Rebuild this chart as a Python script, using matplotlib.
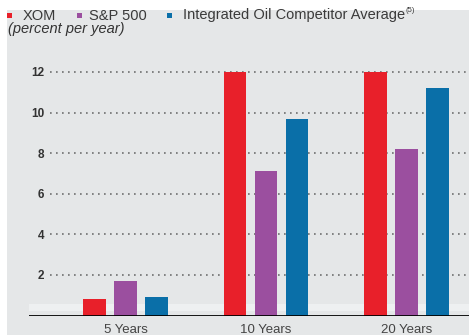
import numpy as np
import matplotlib.pyplot as plt
from matplotlib.patches import Rectangle

plt.rcParams['font.family'] = ['Liberation Sans', 'DejaVu Sans']

periods = ['5 Years', '10 Years', '20 Years']
xom = [0.82, 12.0, 12.0]
sp500 = [1.72, 7.1, 8.2]
oil_avg = [0.93, 9.7, 11.2]
y_ticks = [2, 4, 6, 8, 10, 12]

colors = ['#e8202a', '#9b4f9f', '#0a6fa8']
names = ['XOM', 'S&P 500', 'Integrated Oil Competitor Average']
bg = '#e5e7e8'
W, H = 469, 335

fig = plt.figure(figsize=(4.69, 3.35), dpi=100)
fig.patch.set_facecolor('white')
# grey panel behind everything
fig.patches.append(Rectangle((7 / W, 0), 1, 1 - 10 / H, transform=fig.transFigure,
                             facecolor=bg, edgecolor='none', zorder=-10))

ax = fig.add_axes([29 / W, 1 - 315.6 / H, 440 / W, 255.8 / H])
ax.set_facecolor('none')

x = np.arange(len(periods))
w = 0.16
step = 0.22
for i, vals in enumerate([xom, sp500, oil_avg]):
    ax.bar(x + (i - 1) * step, vals, width=w, color=colors[i], zorder=3)

# dotted grid lines
for t in y_ticks:
    ax.axhline(t, xmin=0.048, xmax=1, color='#6f6f6f', lw=1.2,
               linestyle=(0, (1, 2.6)), zorder=1)
# faint light band just above the baseline
ax.axhspan(0.25, 0.55, color='#eef0f1', lw=0, zorder=0)
ax.axhline(0, color='black', lw=2, zorder=4)

ax.set_xlim(-0.687, 2.445)
ax.set_ylim(0, 12.6)
ax.set_yticks(y_ticks)
ax.set_yticklabels([str(t) for t in y_ticks], fontsize=8.5, fontweight='bold', color='#333333')
ax.tick_params(axis='y', length=0, pad=-10.8)
ax.set_xticks(x)
ax.set_xticklabels(periods, fontsize=9.5, color='#444444')
ax.tick_params(axis='x', length=0, pad=6)
for s in ax.spines.values():
    s.set_visible(False)

# legend row
leg_y = 1 - 15.5 / H
sq_x = [7, 77, 167]
txt_x = [23, 89, 183]
labels = []
for c, n, sx, tx in zip(colors, names, sq_x, txt_x):
    fig.patches.append(Rectangle((sx / W, leg_y - 2.5 / H), 5 / W, 5 / H,
                                 transform=fig.transFigure, facecolor=c, edgecolor='none'))
    labels.append(fig.text(tx / W, leg_y, n, fontsize=10.5, color='#3a3a3a',
                           va='center', ha='left'))

# footnote marker after the last legend label
fig.canvas.draw()
bb = labels[-1].get_window_extent(fig.canvas.get_renderer())
fig.text(bb.x1 / W + 0.5 / W, 1 - 10 / H, '(5)', fontsize=5.5, color='#3a3a3a',
         va='center', ha='left')

fig.text(8 / W, 1 - 29.5 / H, '(percent per year)', fontsize=10.5, style='italic',
         color='#333333', va='center', ha='left')

fig.savefig('out.png', dpi=100, facecolor=fig.get_facecolor())
